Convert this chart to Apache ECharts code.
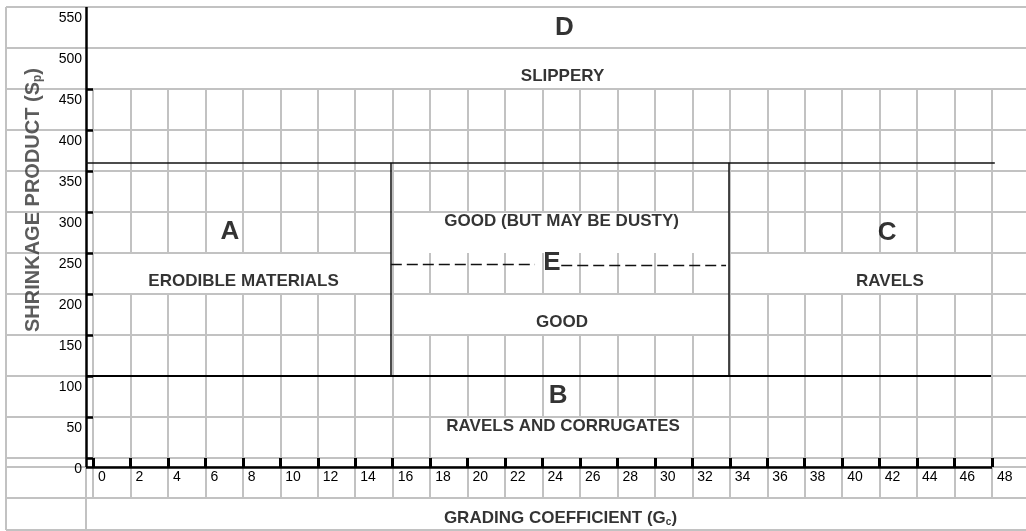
<!DOCTYPE html>
<html>
<head>
<meta charset="utf-8">
<script src="https://cdn.jsdelivr.net/npm/echarts@6.0.0/dist/echarts.min.js"></script>
<style>
    html, body { margin: 0; padding: 0; background: #fff; }
    #chart { width: 1026px; height: 531px; }
</style>
</head>
<body>
<div id="chart"></div>
<script>
// tick values of the two axes
const gcTicks = [0, 2, 4, 6, 8, 10, 12, 14, 16, 18, 20, 22, 24, 26, 28, 30, 32, 34, 36, 38, 40, 42, 44, 46, 48]
const spTicks = [0, 50, 100, 150, 200, 250, 300, 350, 400, 450, 500, 550]
const spTickMarks = [0, 50, 100, 150, 200, 250, 300, 350, 400, 450]

// zone limits (Gc across, Sp up)
const spUpper = 360
const spLower = 100
const gcLeft = 15.9
const gcRight = 33.95
const dustyLeft = [[15.9, 236], [23.6, 236]]
const dustyRight = [[25, 234.5], [33.8, 234.5]]

// zone captions and where they sit (Gc, Sp)
const zoneNames = ['D', 'SLIPPERY', 'A', 'ERODIBLE MATERIALS', 'GOOD (BUT MAY BE DUSTY)', 'E', 'GOOD', 'B', 'RAVELS AND CORRUGATES', 'C', 'RAVELS']
const zoneAt = [[25.17, 525], [25.07, 466], [7.31, 275.6], [8.04, 216], [25.02, 289], [24.5, 238.4], [25.04, 166], [24.83, 75.6], [25.1, 39], [42.4, 274.4], [42.55, 216]]

// cells of the sheet where the grey rules are hidden (merged cells)
const mergedCells = [
    { gc: [2, 14], sp: [200, 250] },
    { gc: [18, 32], sp: [250, 300] },
    { gc: [18, 32], sp: [150, 200] },
    { gc: [36, 46], sp: [200, 250] },
    { gc: [20, 30], sp: [0, 50] }
]

// ---- layout (pixels) ----
const W = 1026, H = 531
const plotLeft = 93, plotRight = 992, plotTop = 7, plotZero = 458
const sx = (plotRight - plotLeft) / 48
const sy = (plotZero - plotTop) / 550
const X_MIN = -plotLeft / sx, X_MAX = (W - plotLeft) / sx
const Y_MIN = -(H - plotZero) / sy, Y_MAX = plotZero / sy
const px2gc = p => (p - plotLeft) / sx
const px2sp = p => (plotZero - p) / sy

const sheetLeft = px2gc(6)
const axisGc = px2gc(86)
const axisSp = px2sp(467)
const labelRowBottom = px2sp(498)
const sheetBottom = px2sp(530)

const FONT = 'Liberation Sans, Arial, sans-serif'
const GREY = '#c2c2c2'

function seg(a, b) {
    return { coords: [a, b] }
}

// grey sheet rules
let greyLines = []
gcTicks.forEach(function (g) {
    let cuts = mergedCells.filter(c => g >= c.gc[0] && g <= c.gc[1]).map(c => c.sp).sort((a, b) => a[0] - b[0])
    let from = labelRowBottom
    cuts.forEach(function (c) {
        if (c[0] > from) greyLines.push(seg([g, from], [g, c[0]]))
        from = Math.max(from, c[1])
    })
    if (from < 450) greyLines.push(seg([g, from], [g, 450]))
})
spTicks.concat([axisSp, labelRowBottom, sheetBottom]).forEach(function (s) {
    if (s === 250) {
        greyLines.push(seg([sheetLeft, s], [gcLeft, s]))
        greyLines.push(seg([gcRight, s], [X_MAX, s]))
    } else {
        greyLines.push(seg([sheetLeft, s], [X_MAX, s]))
    }
})
greyLines.push(seg([sheetLeft, sheetBottom], [sheetLeft, 550]))
greyLines.push(seg([axisGc, sheetBottom], [axisGc, axisSp]))

let axisLines = [
    seg([axisGc, axisSp], [axisGc, 550]),
    seg([axisGc, axisSp], [48, axisSp])
]
let thinLimits = [
    seg([axisGc, spUpper], [48.15, spUpper]),
    seg([gcLeft, spLower], [gcLeft, spUpper]),
    seg([gcRight, spLower], [gcRight, spUpper])
]
let thickLimits = [seg([axisGc, spLower], [47.95, spLower])]
let dashed = [seg(dustyLeft[0], dustyLeft[1]), seg(dustyRight[0], dustyRight[1])]

let captions = zoneNames.map(function (n, i) {
    return {
        name: n,
        value: zoneAt[i],
        label: { fontSize: n.length === 1 ? 26 : 17 }
    }
})

let chart = echarts.init(document.getElementById('chart'))
chart.setOption({
    animation: false,
    grid: [
        { left: 0, right: 0, top: 0, bottom: 0, containLabel: false, outerBoundsMode: 'none' },
        { left: plotLeft, right: W - plotRight, top: plotTop, bottom: H - plotZero, containLabel: false, outerBoundsMode: 'none' }
    ],
    xAxis: [
        { type: 'value', gridIndex: 0, min: X_MIN, max: X_MAX, show: false },
        {
            // ticks hang from the zero rule down to the black axis line
            type: 'value', gridIndex: 1, min: 0, max: 48, interval: 2, z: 10,
            position: 'bottom',
            axisLine: { show: false },
            axisTick: { show: true, inside: false, length: 9, lineStyle: { color: '#000', width: 3 } },
            axisLabel: { align: 'left', padding: [0, 0, 0, 5], margin: 12, fontSize: 14, color: '#000', fontFamily: FONT },
            splitLine: { show: false }
        }
    ],
    yAxis: [
        { type: 'value', gridIndex: 0, min: Y_MIN, max: Y_MAX, show: false },
        {
            type: 'value', gridIndex: 1, min: 0, max: 550, interval: 50, z: 10,
            position: 'left',
            axisLine: { show: false },
            axisTick: { show: true, inside: false, length: 7, customValues: spTickMarks, lineStyle: { color: '#000', width: 2.5 } },
            axisLabel: { margin: 11, verticalAlign: 'top', padding: [4, 0, 0, 0], fontSize: 14, color: '#000', fontFamily: FONT },
            splitLine: { show: false }
        }
    ],
    series: [
        {
            type: 'lines', coordinateSystem: 'cartesian2d', xAxisIndex: 0, yAxisIndex: 0,
            silent: true, z: 1, data: greyLines,
            lineStyle: { color: GREY, width: 2, opacity: 1 }
        },
        {
            type: 'lines', coordinateSystem: 'cartesian2d', xAxisIndex: 0, yAxisIndex: 0,
            silent: true, z: 3, data: axisLines,
            lineStyle: { color: '#000', width: 2.5, opacity: 1 }
        },
        {
            type: 'lines', coordinateSystem: 'cartesian2d', xAxisIndex: 0, yAxisIndex: 0,
            silent: true, z: 3, data: thinLimits,
            lineStyle: { color: '#111', width: 1.5, opacity: 1 }
        },
        {
            type: 'lines', coordinateSystem: 'cartesian2d', xAxisIndex: 0, yAxisIndex: 0,
            silent: true, z: 3, data: thickLimits,
            lineStyle: { color: '#000', width: 2.2, opacity: 1 }
        },
        {
            type: 'lines', coordinateSystem: 'cartesian2d', xAxisIndex: 0, yAxisIndex: 0,
            silent: true, z: 3, data: dashed,
            lineStyle: { color: '#111', width: 1.3, type: [11, 5], opacity: 1 }
        },
        {
            type: 'scatter', xAxisIndex: 0, yAxisIndex: 0, silent: true, z: 4,
            symbolSize: 0, data: captions,
            label: {
                show: true, position: 'inside', formatter: '{b}',
                color: '#000', fontWeight: 'bold', fontFamily: FONT
            }
        },
        {
            type: 'scatter', xAxisIndex: 0, yAxisIndex: 0, silent: true, z: 4,
            symbolSize: 0,
            data: [
                { name: 'x', value: [24.96, px2sp(518)], label: { formatter: '{a|GRADING COEFFICIENT (G}{s|c}{a|)}' } },
                { name: 'y', value: [px2gc(33), px2sp(200)], label: { rotate: 90, formatter: '{b|SHRINKAGE PRODUCT (S}{t|p}{b|)}' } }
            ],
            label: {
                show: true, position: 'inside', color: '#000', fontFamily: FONT,
                rich: {
                    a: { fontSize: 17, fontWeight: 'bold', fontFamily: FONT, lineHeight: 19 },
                    s: { fontSize: 10, fontWeight: 'bold', fontFamily: FONT, lineHeight: 10, verticalAlign: 'bottom' },
                    b: { fontSize: 20, fontWeight: 'bold', fontFamily: FONT, lineHeight: 22, color: '#333' },
                    t: { fontSize: 12, fontWeight: 'bold', fontFamily: FONT, lineHeight: 12, verticalAlign: 'bottom', color: '#333' }
                }
            }
        }
    ]
})
</script>
</body>
</html>
